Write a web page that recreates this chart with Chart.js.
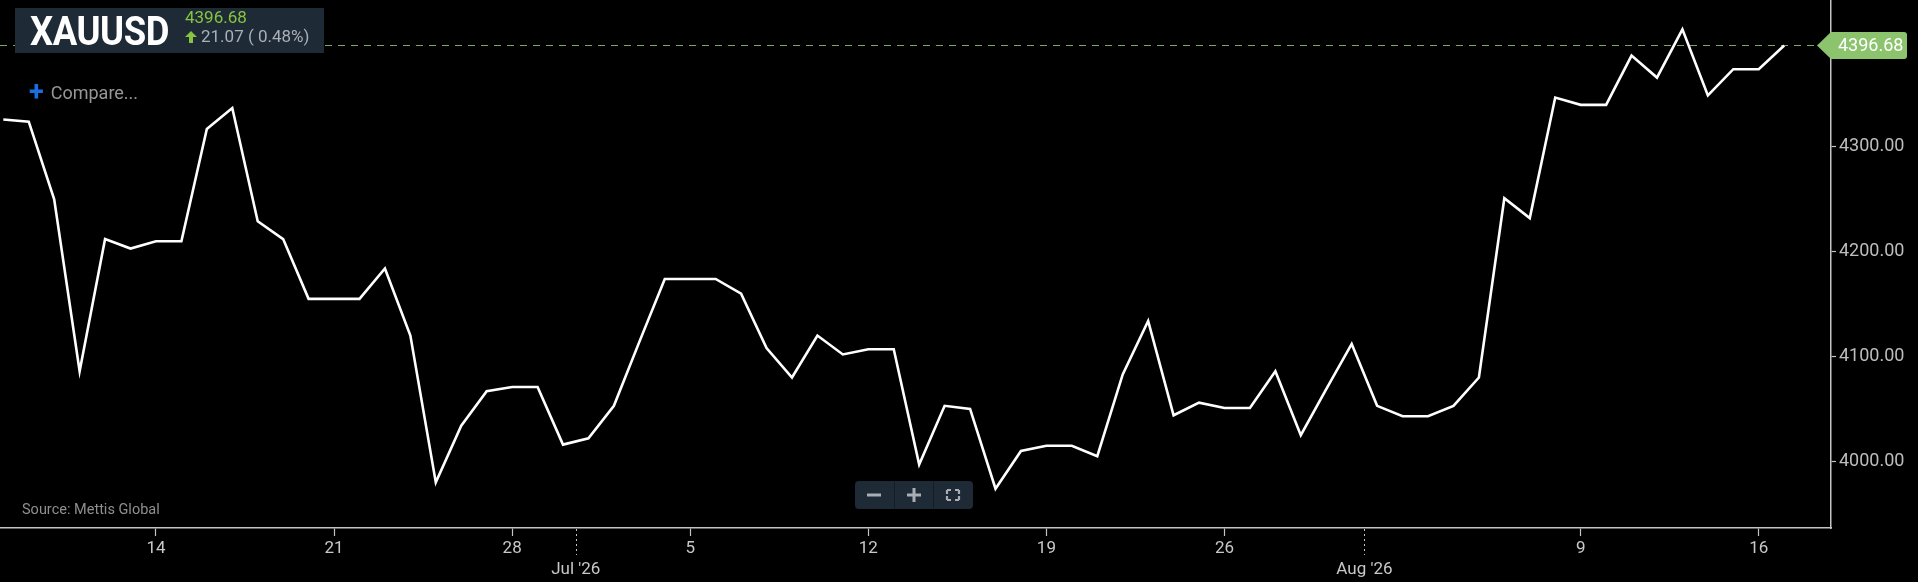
<!DOCTYPE html>
<html>
<head>
<meta charset="utf-8">
<script src="https://cdn.jsdelivr.net/npm/chart.js@4.4.1/dist/chart.umd.min.js"></script>
<style>
  html, body { margin: 0; padding: 0; background: #000; overflow: hidden; }
  #wrap { position: relative; width: 1918px; height: 582px; font-family: Roboto, "Noto Sans", sans-serif; }
  #header { position: absolute; left: 15px; top: 8px; width: 309px; height: 45px; background: #1e2a36; }
  #sym { position: absolute; left: 15px; top: 1px; font-size: 41px; font-weight: 700; color: #fff;
         transform: scaleX(0.89); transform-origin: left top; line-height: 44px; letter-spacing: -0.5px; }
  #last { position: absolute; left: 170px; top: 0px; font-size: 17px; color: #86c440; line-height: 19px; }
  #chg { position: absolute; left: 170px; top: 18px; font-size: 17px; color: #a9b0b8; line-height: 20px; }
  #chg svg { vertical-align: -1px; margin-right: 4px; }
  #compare { position: absolute; left: 29px; top: 81px; font-size: 18px; color: #969696; line-height: 22px; }
  #compare b { color: #1a6fe0; font-size: 27px; font-weight: 700; margin-right: 7px; vertical-align: -2px; }
  #source { position: absolute; left: 22px; top: 501px; font-size: 14.5px; color: #8f8f8f; line-height: 18px; }
  #zoom { position: absolute; left: 855px; top: 481px; width: 118px; height: 28px; background: #1e2a36; border-radius: 4px; }
  #zoom .sep { position: absolute; top: 0; width: 1px; height: 28px; background: #141d26; }
</style>
</head>
<body>
<div id="wrap">
  <canvas id="priceChart" width="1918" height="582"></canvas>
  <div id="header">
    <div id="sym">XAUUSD</div>
    <div id="last">4396.68</div>
    <div id="chg"><svg width="12" height="12" viewBox="0 0 12 12"><path d="M6 0 L12 6 L8 6 L8 12 L4 12 L4 6 L0 6 Z" fill="#86c440"/></svg>21.07 ( 0.48%)</div>
  </div>
  <div id="compare"><b>+</b>Compare...</div>
  <div id="source">Source: Mettis Global</div>
  <div id="zoom">
    <svg width="118" height="28" viewBox="0 0 118 28" style="position:absolute;left:0;top:0">
      <rect x="12" y="12.5" width="14" height="3" fill="#a8aeb4"/>
      <rect x="52" y="12.5" width="14" height="3" fill="#a8aeb4"/>
      <rect x="57.5" y="7" width="3" height="14" fill="#a8aeb4"/>
      <path d="M92 9 h4 M92 9 v4 M104 9 h-4 M104 9 v4 M92 19 h4 M92 19 v-4 M104 19 h-4 M104 19 v-4" stroke="#a8aeb4" stroke-width="2.2" fill="none"/>
    </svg>
    <div class="sep" style="left:39px"></div>
    <div class="sep" style="left:78px"></div>
  </div>
</div>
<script>
// daily closes, Jun 8 2026 .. Aug 17 2026 (index = days since Jun 8)
const prices = [
  4326, 4324, 4250, 4086, 4212, 4203, 4210, 4210, 4317, 4337,
  4229, 4212, 4155, 4155, 4155, 4184, 4120, 3980, 4034, 4067,
  4071, 4071, 4016, 4022, 4053, 4114, 4174, 4174, 4174, 4160,
  4108, 4080, 4120, 4102, 4107, 4107, 3997, 4053, 4050, 3974,
  4010, 4015, 4015, 4005, 4083, 4134, 4044, 4056, 4051, 4051,
  4086, 4025, 4069, 4112, 4053, 4043, 4043, 4053, 4080, 4251,
  4232, 4347, 4340, 4340, 4387, 4366, 4412, 4349, 4374, 4374,
  4396.68
];
const lastPrice = 4396.68;

// week ticks (Sundays) and month boundaries, in days since Jun 8
const weekTickDays = [6, 13, 20, 27, 34, 41, 48, 62, 69];
const weekTickLabels = ['14', '21', '28', '5', '12', '19', '26', '9', '16'];
const monthTickDays = [22.5, 53.5];
const monthTickLabels = ["Jul '26", "Aug '26"];
const priceTicks = [4000, 4100, 4200, 4300];

const axisColor = '#c4c4c4';

const points = prices.map((p, i) => ({ x: i, y: p }));

// dashed last-price line and the green badge on the axis
const lastPricePlugin = {
  id: 'lastPrice',
  beforeDatasetsDraw(chart) {
    const { ctx, chartArea, scales } = chart;
    const y = Math.round(scales.y.getPixelForValue(lastPrice)) + 0.5;
    ctx.save();
    ctx.strokeStyle = '#79a862';
    ctx.lineWidth = 1.2;
    ctx.setLineDash([7, 6]);
    ctx.beginPath();
    ctx.moveTo(chartArea.left, y);
    ctx.lineTo(chartArea.right - 14, y);
    ctx.stroke();
    ctx.restore();
  },
  afterDraw(chart) {
    const { ctx, chartArea, scales } = chart;
    const y = scales.y.getPixelForValue(lastPrice);
    const l = chartArea.right - 14, b = chartArea.right, r = 1907, h = 13.5;
    ctx.save();
    ctx.fillStyle = '#8cc46e';
    ctx.beginPath();
    ctx.moveTo(l, y);
    ctx.lineTo(b, y - h);
    ctx.lineTo(r - 3, y - h);
    ctx.quadraticCurveTo(r, y - h, r, y - h + 3);
    ctx.lineTo(r, y + h - 3);
    ctx.quadraticCurveTo(r, y + h, r - 3, y + h);
    ctx.lineTo(b, y + h);
    ctx.closePath();
    ctx.fill();
    ctx.fillStyle = '#fff';
    ctx.font = '18px Roboto';
    ctx.textBaseline = 'middle';
    ctx.fillText(lastPrice.toFixed(2), b + 7, y + 1);

    // dotted month separators under the x axis
    ctx.strokeStyle = axisColor;
    ctx.lineWidth = 1;
    ctx.setLineDash([2, 3]);
    monthTickDays.forEach(d => {
      const x = Math.round(scales.x.getPixelForValue(d)) + 0.5;
      ctx.beginPath();
      ctx.moveTo(x, chartArea.bottom + 1);
      ctx.lineTo(x, chartArea.bottom + 27);
      ctx.stroke();
    });
    ctx.restore();
  }
};

new Chart(document.getElementById('priceChart'), {
  type: 'line',
  data: {
    datasets: [{
      data: points,
      borderColor: '#ffffff',
      borderWidth: 2.6,
      pointRadius: 0,
      tension: 0,
      fill: false
    }]
  },
  options: {
    responsive: false,
    animation: false,
    devicePixelRatio: 1,
    layout: { padding: 0 },
    plugins: { legend: { display: false }, tooltip: { enabled: false } },
    scales: {
      x: {
        type: 'linear',
        min: -0.13,
        max: 71.84,
        afterFit(scale) {
          scale.height = 54;
          scale.paddingLeft = 0;
          scale.paddingRight = 0;
        },
        afterBuildTicks(scale) {
          scale.ticks = weekTickDays.concat(monthTickDays).map(v => ({ value: v }));
        },
        border: { color: axisColor, width: 1.5 },
        grid: {
          drawOnChartArea: false,
          tickLength: 8,
          tickWidth: 1.2,
          tickColor: c => (c.tick && monthTickDays.includes(c.tick.value)) ? 'rgba(0,0,0,0)' : axisColor
        },
        ticks: {
          autoSkip: false,
          maxRotation: 0,
          color: '#c8c8c8',
          font: { family: 'Roboto', size: 17, lineHeight: 1.25 },
          padding: 2,
          callback(v) {
            const w = weekTickDays.indexOf(v);
            if (w >= 0) return weekTickLabels[w];
            const m = monthTickDays.indexOf(v);
            if (m >= 0) return ['', monthTickLabels[m]];
            return '';
          }
        }
      },
      y: {
        position: 'right',
        min: 3936.5,
        max: 4440,
        afterFit(scale) {
          scale.width = 87;
          scale.paddingTop = 0;
          scale.paddingBottom = 0;
        },
        afterBuildTicks(scale) {
          scale.ticks = priceTicks.map(v => ({ value: v }));
        },
        border: { color: axisColor, width: 1.5 },
        grid: { drawOnChartArea: false, tickLength: 5, tickColor: axisColor, tickWidth: 1.2 },
        ticks: {
          color: '#bdbdbd',
          font: { family: 'Roboto', size: 18 },
          padding: 3,
          callback: v => Number(v).toFixed(2)
        }
      }
    }
  },
  plugins: [lastPricePlugin]
});
</script>
</body>
</html>
